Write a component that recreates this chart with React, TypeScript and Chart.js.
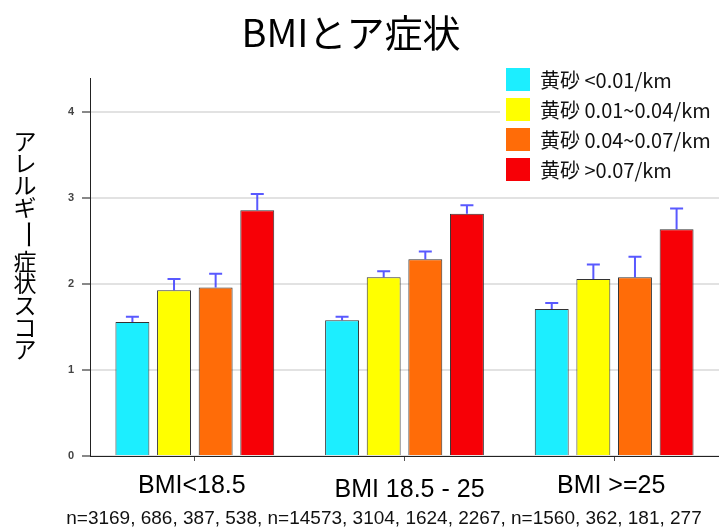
import { useEffect, useRef } from "react";
import { Chart, registerables } from "chart.js";

Chart.register(...registerables);

// BMI groups on the x axis
const groups = ["BMI<18.5", "BMI 18.5 - 25", "BMI >=25"];

// Dust (黄砂) concentration classes
const seriesLabels = [
  "黄砂 <0.01/km",
  "黄砂 0.01~0.04/km",
  "黄砂 0.04~0.07/km",
  "黄砂 >0.07/km",
];

// Mean allergy symptom score per BMI group
const dustUnder001 = [1.56, 1.58, 1.71];
const dust001to004 = [1.93, 2.08, 2.06];
const dust004to007 = [1.96, 2.29, 2.08];
const dustOver007 = [2.86, 2.82, 2.64];

// Upper error (standard error) per BMI group
const errUnder001 = [0.06, 0.04, 0.07];
const err001to004 = [0.13, 0.07, 0.17];
const err004to007 = [0.16, 0.09, 0.24];
const errOver007 = [0.19, 0.1, 0.24];

const yTicks = [0, 1, 2, 3, 4];
const yMax = 4.4;

const chartTitle = "BMIとア症状";
const yTitle = "アレルギー症状スコア";
const footnote =
  "n=3169, 686, 387, 538, n=14573, 3104, 1624, 2267, n=1560, 362, 181, 277";

const colors = ["#1ceeff", "#ffff00", "#ff6c08", "#f70006"];

// small per-label nudges for the group captions (dx, baseline dy)
const captionNudge = [
  [-3, 0],
  [5, 3.5],
  [-3, 0],
];

const decorations = {
  id: "decorations",
  afterDatasetsDraw(chart: any) {
    const ctx = chart.ctx;
    const y = chart.scales.y;
    chart.data.datasets.forEach((ds: any, i: number) => {
      const meta = chart.getDatasetMeta(i);
      meta.data.forEach((bar: any, j: number) => {
        const top = y.getPixelForValue(ds.data[j] + ds.errors[j]);
        ctx.save();
        ctx.strokeStyle = "rgba(60,60,255,0.85)";
        ctx.lineWidth = 2;
        ctx.beginPath();
        ctx.moveTo(bar.x, bar.y);
        ctx.lineTo(bar.x, top);
        ctx.moveTo(bar.x - 6.5, top);
        ctx.lineTo(bar.x + 6.5, top);
        ctx.stroke();
        ctx.restore();
      });
    });
  },
  afterDraw(chart: any) {
    const ctx = chart.ctx;
    const x = chart.scales.x;
    ctx.save();

    // title
    ctx.fillStyle = "#000";
    ctx.textAlign = "center";
    ctx.textBaseline = "alphabetic";
    ctx.font = '38px "Noto Sans CJK JP", sans-serif';
    ctx.fillText(chartTitle, 351, 47);

    // vertical y-axis title, characters stacked upright
    ctx.font = '23px "Noto Sans CJK JP", sans-serif';
    ctx.textBaseline = "middle";
    let cy = 141.5;
    Array.from(yTitle).forEach((ch) => {
      if (ch === "ー") {
        cy += 5;
        ctx.save();
        ctx.translate(29, cy);
        ctx.rotate(Math.PI / 2);
        ctx.scale(1.3, 1);
        ctx.fillText(ch, 0, 0);
        ctx.restore();
        cy += 5;
      } else {
        ctx.fillText(ch, 25, cy);
      }
      cy += 22;
    });

    // group captions
    ctx.font = '25px "Liberation Sans", Arial, sans-serif';
    ctx.textBaseline = "alphabetic";
    groups.forEach((g, k) => {
      ctx.fillText(g, x.getPixelForValue(k) + captionNudge[k][0], 493.3 + captionNudge[k][1]);
    });

    // sample sizes
    ctx.font = '19px "Liberation Sans", Arial, sans-serif';
    ctx.fillStyle = "#111";
    ctx.fillText(footnote, 384, 524);

    // legend
    ctx.fillStyle = "#fff";
    ctx.fillRect(500, 60, 219, 130);
    ctx.textAlign = "left";
    ctx.textBaseline = "middle";
    ctx.font = '20px "Noto Sans CJK JP", sans-serif';
    seriesLabels.forEach((lab, k) => {
      const ly = 79.5 + k * 30;
      ctx.fillStyle = colors[k];
      ctx.fillRect(506, ly - 11.5, 24, 23);
      ctx.fillStyle = "#111";
      ctx.fillText(lab, 540, ly + 1);
    });

    ctx.restore();
  },
};

export default function App() {
  const ref = useRef<HTMLCanvasElement | null>(null);

  useEffect(() => {
    if (!ref.current) return;
    const values = [dustUnder001, dust001to004, dust004to007, dustOver007];
    const errors = [errUnder001, err001to004, err004to007, errOver007];
    const chart = new Chart(ref.current, {
      type: "bar",
      data: {
        labels: groups,
        datasets: seriesLabels.map((label, i) => ({
          label,
          data: values[i],
          errors: errors[i],
          backgroundColor: colors[i],
          borderColor: "#333",
          borderWidth: 1,
          categoryPercentage: 0.794,
          barPercentage: 0.815,
        })) as any,
      },
      options: {
        responsive: false,
        animation: false,
        devicePixelRatio: 1,
        layout: { padding: { top: 78, right: 0, left: 0, bottom: 0 } },
        plugins: {
          legend: { display: false },
          title: { display: false },
          tooltip: { enabled: false },
        },
        scales: {
          x: {
            afterFit: (s: any) => {
              s.height = 75;
            },
            grid: {
              offset: false,
              drawOnChartArea: false,
              drawTicks: true,
              tickLength: 5,
              color: "#555",
            },
            border: { color: "#222", width: 1 },
            ticks: { callback: () => "" },
          },
          y: {
            min: 0,
            max: yMax,
            afterFit: (s: any) => {
              s.width = 90;
            },
            afterBuildTicks: (s: any) => {
              s.ticks = yTicks.map((v) => ({ value: v }));
            },
            grid: {
              color: "#e2e2e2",
              lineWidth: 2,
              tickLength: 8,
              tickColor: "#888",
            },
            border: { color: "#222", width: 1 },
            ticks: {
              padding: 8,
              color: "#444",
              font: { family: '"Liberation Sans", Arial, sans-serif', size: 11, weight: "bold" },
            },
          },
        },
      },
      plugins: [decorations],
    });
    return () => chart.destroy();
  }, []);

  return (
    <div style={{ position: "fixed", left: 0, top: 0, width: 719, height: 531, background: "#fff" }}>
      <canvas ref={ref} width={719} height={531} />
    </div>
  );
}
